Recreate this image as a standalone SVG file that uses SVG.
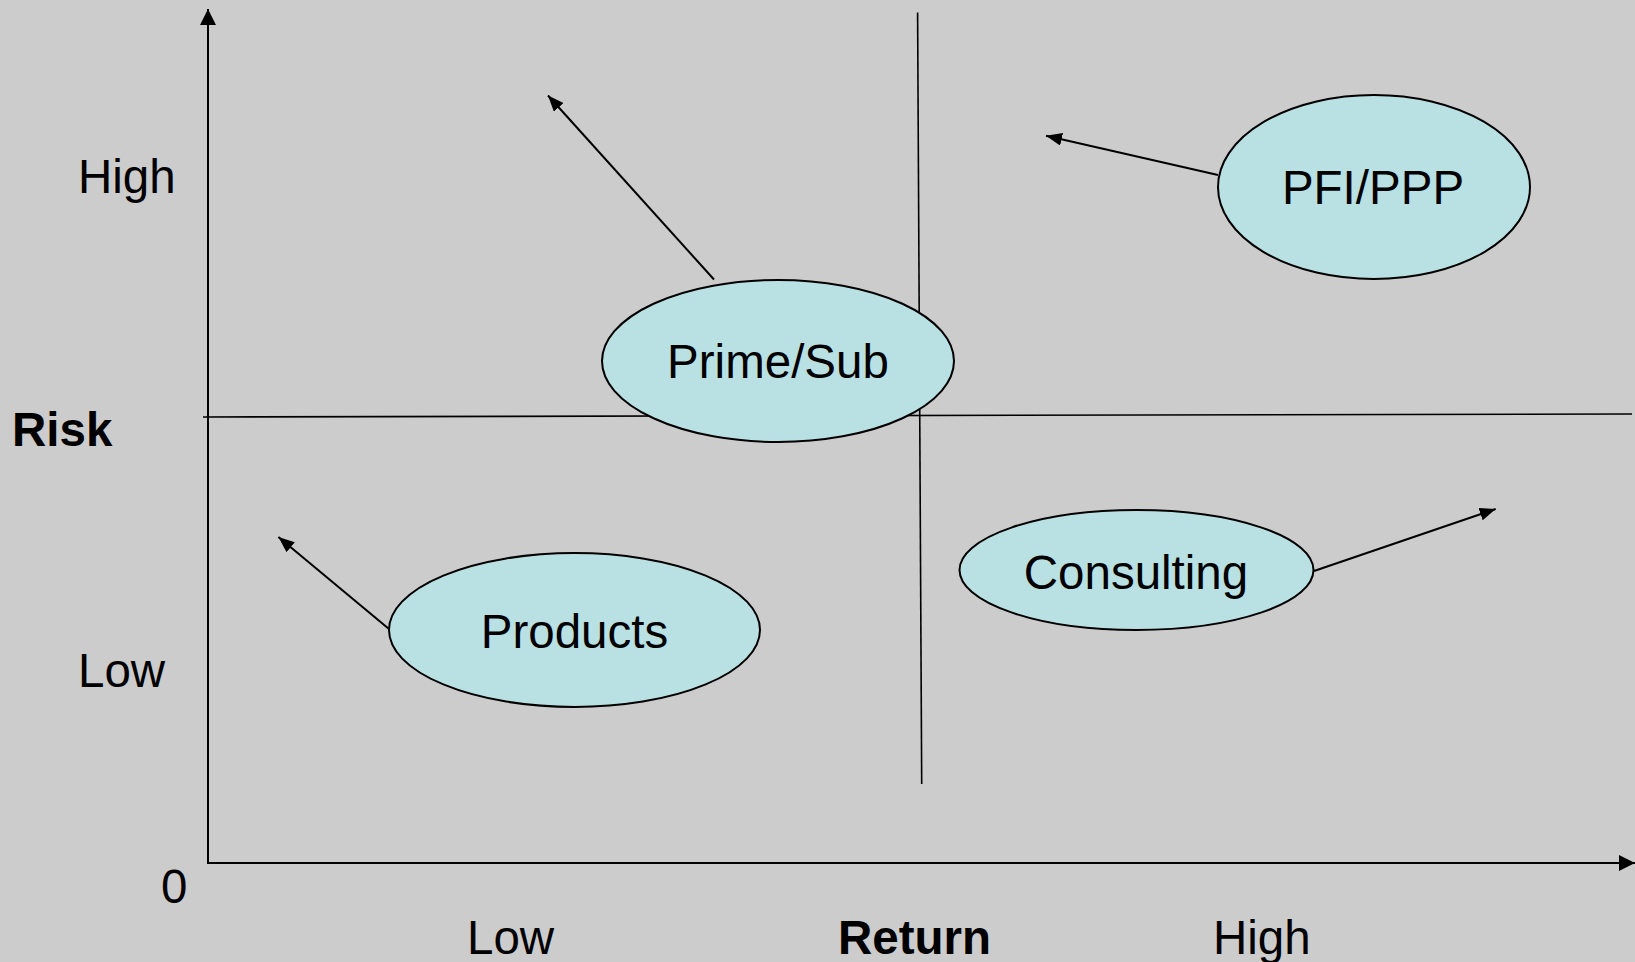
<svg xmlns="http://www.w3.org/2000/svg" width="1635" height="962" viewBox="0 0 1635 962">
<style>
.lbl{font-family:"Liberation Sans",Arial,sans-serif;font-size:47.5px;fill:#000}
.b{font-weight:bold}
.mid{text-anchor:middle}
.node ellipse{fill:#b9e0e3;stroke:#000;stroke-width:2}
.ax{stroke:#000;stroke-width:2;fill:none}
.div{stroke:#000;stroke-width:1.6;fill:none}
.con{stroke:#000;stroke-width:2;fill:none}
</style>
<defs>
<marker id="axh" markerUnits="userSpaceOnUse" markerWidth="16" markerHeight="16" refX="16" refY="8" orient="auto" viewBox="0 0 16 16">
<path d="M0,0 L16,8 L0,16 z" fill="#000"/>
</marker>
<marker id="ah" markerUnits="userSpaceOnUse" markerWidth="16" markerHeight="13" refX="16" refY="6.5" orient="auto" viewBox="0 0 16 13">
<path d="M0,0 L16,6.5 L0,13 z" fill="#000"/>
</marker>
</defs>
<rect width="1635" height="962" fill="#cccccc"/>
<g id="axes">
<line class="ax" x1="208" y1="863" x2="208" y2="9" marker-end="url(#axh)"/>
<line class="ax" x1="207" y1="863" x2="1635" y2="863" marker-end="url(#axh)"/>
<line class="div" x1="917.6" y1="12.5" x2="921.7" y2="784"/>
<line class="div" x1="203" y1="417" x2="1632" y2="414"/>
</g>
<g id="labels">
<text class="lbl" x="78" y="193">High</text>
<text class="lbl b" x="12" y="446">Risk</text>
<text class="lbl" x="78" y="687">Low</text>
<text class="lbl" x="161" y="903">0</text>
<text class="lbl" x="467" y="954">Low</text>
<text class="lbl b" x="838" y="954">Return</text>
<text class="lbl" x="1213" y="954">High</text>
</g>
<g id="connectors">
<line class="con" x1="714" y1="279.5" x2="548" y2="95.5" marker-end="url(#ah)"/>
<line class="con" x1="1218" y1="175" x2="1046" y2="135.7" marker-end="url(#ah)"/>
<line class="con" x1="389" y1="629" x2="278.4" y2="537" marker-end="url(#ah)"/>
<line class="con" x1="1314" y1="571" x2="1495.7" y2="509" marker-end="url(#ah)"/>
</g>
<g id="node-prime-sub" class="node">
<ellipse cx="778" cy="361" rx="176" ry="81"/>
<text class="lbl mid" x="778" y="378">Prime/Sub</text>
</g>
<g id="node-pfi-ppp" class="node">
<ellipse cx="1374" cy="187" rx="156" ry="92"/>
<text class="lbl mid" x="1373" y="204">PFI/PPP</text>
</g>
<g id="node-consulting" class="node">
<ellipse cx="1136.5" cy="570" rx="177" ry="60"/>
<text class="lbl mid" x="1136" y="589">Consulting</text>
</g>
<g id="node-products" class="node">
<ellipse cx="574.5" cy="630" rx="185.5" ry="77"/>
<text class="lbl mid" x="574.5" y="648">Products</text>
</g>
</svg>
